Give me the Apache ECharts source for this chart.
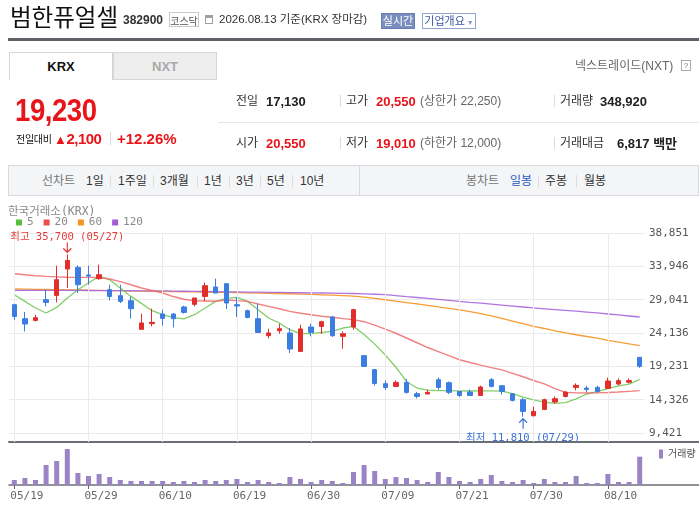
<!DOCTYPE html>
<html lang="ko">
<head>
<meta charset="utf-8">
<script src="https://cdn.jsdelivr.net/npm/echarts@6/dist/echarts.min.js"></script>
<style>
  html,body{margin:0;padding:0;background:#fff;}
  body{width:699px;height:507px;position:relative;overflow:hidden;font-family:"Liberation Sans","Noto Sans CJK KR",sans-serif;}
  #chart{position:absolute;left:0;top:0;width:699px;height:507px;z-index:0;}
  .a{position:absolute;white-space:nowrap;line-height:1;z-index:2;}
  .sep{position:absolute;width:1px;background:#dcdcdc;z-index:2;}
  .lbl{font-size:12px;color:#333;}
  .val{font-size:13px;font-weight:bold;color:#222;}
  .red{color:#e8141a;}
  .sub{font-size:12px;color:#666;}
  .nav{font-size:12px;color:#333;}
</style>
</head>
<body>
<!-- header -->
<div class="a" style="left:10px;top:5px;font-size:23.5px;color:#111;font-family:'Noto Sans CJK KR';">범한퓨얼셀</div>
<div class="a" style="left:123px;top:14px;font-size:12px;font-weight:bold;color:#333;">382900</div>
<div class="a" style="left:169px;top:12px;width:30px;height:15px;border:1px solid #c9c9c9;font-size:10px;color:#555;text-align:center;line-height:15px;box-sizing:border-box;font-family:'Noto Sans CJK KR';">코스닥</div>
<div class="a" style="left:205px;top:15px;width:8px;height:9px;border:1px solid #a0a0a0;border-top:3px solid #a0a0a0;box-sizing:border-box;"></div>
<div class="a" style="left:219px;top:14px;font-size:11.5px;color:#333;">2026.08.13 기준(KRX 장마감)</div>
<div class="a" style="left:381px;top:13px;width:34px;height:16px;background:#7b8ec0;border:1px solid #6a7db0;box-sizing:border-box;color:#fff;font-size:11px;text-align:center;line-height:14px;">실시간</div>
<div class="a" style="left:422px;top:13px;width:54px;height:16px;border:1px solid #91a4d2;box-sizing:border-box;color:#3d57a3;font-size:11px;text-align:center;line-height:14px;">기업개요<span style="font-size:7px;color:#8a9ac8;"> ▼</span></div>
<div class="a" style="left:8px;top:38px;width:691px;height:3px;background:#5e6268;"></div>

<div class="a" style="left:9px;top:52px;width:104px;height:28px;border:1px solid #d6d6d6;border-bottom:none;box-sizing:border-box;background:#fff;font-size:13px;font-weight:bold;color:#111;text-align:center;line-height:27px;">KRX</div>
<div class="a" style="left:113px;top:52px;width:104px;height:28px;border:1px solid #d6d6d6;box-sizing:border-box;background:#eeeeee;font-size:13px;font-weight:bold;color:#aaa;text-align:center;line-height:27px;">NXT</div>
<div class="a" style="left:575px;top:60px;font-size:12px;color:#666;">넥스트레이드(NXT)</div>
<div class="a" style="left:681px;top:60px;width:10px;height:11px;border:1px solid #aaa;box-sizing:border-box;font-size:8px;color:#777;text-align:center;line-height:9px;">?</div>

<div class="a red" style="left:15px;top:94px;font-size:32px;font-weight:bold;transform:scaleX(0.86);transform-origin:0 0;letter-spacing:-0.5px;">19,230</div>
<div class="a" style="left:16px;top:134px;font-size:10px;color:#111;font-family:'Noto Sans CJK KR';letter-spacing:-0.3px;">전일대비</div>
<div class="a red" style="left:54px;top:131px;font-size:15px;font-weight:bold;letter-spacing:-0.5px;"><span style="font-size:13px;">▲</span>2,100</div>
<div class="sep" style="left:110px;top:132px;height:13px;"></div>
<div class="a red" style="left:117px;top:131px;font-size:15px;font-weight:bold;">+12.26%</div>

<div class="a lbl" style="left:236px;top:95px;">전일</div>
<div class="a val" style="left:266px;top:95px;">17,130</div>
<div class="sep" style="left:340px;top:95px;height:12px;"></div>
<div class="a lbl" style="left:346px;top:95px;">고가</div>
<div class="a val red" style="left:376px;top:95px;">20,550</div>
<div class="a sub" style="left:420px;top:95px;">(상한가 22,250)</div>
<div class="sep" style="left:554px;top:95px;height:12px;"></div>
<div class="a lbl" style="left:560px;top:95px;">거래량</div>
<div class="a val" style="left:600px;top:95px;">348,920</div>
<div class="a" style="left:218px;top:122px;width:481px;height:1px;background:#e6e6e6;"></div>
<div class="a lbl" style="left:236px;top:137px;">시가</div>
<div class="a val red" style="left:266px;top:137px;">20,550</div>
<div class="sep" style="left:340px;top:137px;height:12px;"></div>
<div class="a lbl" style="left:346px;top:137px;">저가</div>
<div class="a val red" style="left:376px;top:137px;">19,010</div>
<div class="a sub" style="left:420px;top:137px;">(하한가 12,000)</div>
<div class="sep" style="left:554px;top:137px;height:12px;"></div>
<div class="a lbl" style="left:560px;top:137px;">거래대금</div>
<div class="a val" style="left:617px;top:137px;">6,817 백만</div>

<div class="a" style="left:8px;top:165px;width:691px;height:31px;background:#f4f5f7;border:1px solid #d7dae0;box-sizing:border-box;"></div>
<div class="a" style="left:359px;top:165px;width:1px;height:31px;background:#d7dae0;"></div>
<div class="a nav" style="left:42px;top:175px;color:#777;">선차트</div>
<div class="a nav" style="left:86px;top:175px;">1일</div>
<div class="sep" style="left:110px;top:175px;height:12px;"></div>
<div class="a nav" style="left:118px;top:175px;">1주일</div>
<div class="sep" style="left:153px;top:175px;height:12px;"></div>
<div class="a nav" style="left:160px;top:175px;">3개월</div>
<div class="sep" style="left:197px;top:175px;height:12px;"></div>
<div class="a nav" style="left:204px;top:175px;">1년</div>
<div class="sep" style="left:229px;top:175px;height:12px;"></div>
<div class="a nav" style="left:236px;top:175px;">3년</div>
<div class="sep" style="left:260px;top:175px;height:12px;"></div>
<div class="a nav" style="left:267px;top:175px;">5년</div>
<div class="sep" style="left:292px;top:175px;height:12px;"></div>
<div class="a nav" style="left:300px;top:175px;">10년</div>
<div class="a nav" style="left:466px;top:175px;color:#777;">봉차트</div>
<div class="a nav" style="left:510px;top:175px;color:#2a5bbf;">일봉</div>
<div class="sep" style="left:538px;top:175px;height:12px;"></div>
<div class="a nav" style="left:545px;top:175px;">주봉</div>
<div class="sep" style="left:576px;top:175px;height:12px;"></div>
<div class="a nav" style="left:584px;top:175px;">월봉</div>

<div id="chart"></div>
<script>
// ---------- data ----------
const dates = ['05/19','05/20','05/21','05/22','05/26','05/27','05/28','05/29',
  '06/01','06/02','06/04','06/05','06/08','06/09','06/10',
  '06/11','06/12','06/15','06/16','06/17','06/18','06/19',
  '06/22','06/23','06/24','06/25','06/26','06/29','06/30',
  '07/01','07/02','07/03','07/06','07/07','07/08','07/09',
  '07/10','07/13','07/14','07/15','07/16','07/20','07/21',
  '07/22','07/23','07/24','07/27','07/28','07/29','07/30',
  '07/31','08/03','08/04','08/05','08/06','08/07','08/10',
  '08/11','08/12','08/13'];
const openP  = [28300,26240,25990,29040,29670,33550,33790,32670,32130,30510,29630,28890,24670,25510,26930,
  26930,27960,28350,29520,30910,31390,28300,27420,26240,23740,24470,24140,21430,25020,25110,26490,23640,25020,
  20800,18740,16680,16280,16870,15200,15160,17260,16820,15540,15450,14950,17260,16380,15200,14320,11950,12890,
  13980,14810,16130,16040,16130,15980,16630,16900,20550];
const closeP = [26580,25460,26390,28640,31980,34820,31240,32520,32710,29520,28790,27710,25610,25700,26290,
  26240,27170,29290,31100,30020,28550,28110,26430,24220,24140,24770,21780,24730,24220,25800,23740,24030,27570,
  19220,16720,16130,16870,15400,14810,15400,16130,15400,14950,14950,16190,16280,15540,14220,12600,12600,14320,
  14470,15450,16430,15840,15540,17070,17120,17130,19230];
const lowP   = [26090,24370,25840,28050,28640,30760,30020,31240,31980,28930,28550,26240,24670,25110,25250,
  24960,26980,28050,28790,30020,27670,26490,26290,24220,23340,24030,21190,21430,23640,23990,23550,21830,24620,
  19150,16380,15750,16280,15200,14510,15160,15790,15160,14720,14950,14950,16130,15060,14070,11810,11950,12890,
  13730,14660,15690,15400,15310,15980,16430,16720,19010];
const highP  = [28450,27230,26830,30510,34040,35700,34100,34040,34190,31240,31240,29520,26980,27710,27570,
  27080,28150,29290,31580,32130,31390,29430,27570,28450,24770,25500,24870,25360,25500,25950,26580,24370,27710,
  20850,18800,17160,17160,17410,15450,15790,17600,17010,15600,15790,16380,17510,16400,15250,14570,13290,14470,
  14810,15540,16720,16380,16380,17560,17460,17460,20550];
const volume = [61650,86300,61650,246600,296000,443900,148000,111000,135600,98600,61650,49300,49300,49300,49300,
  37000,49300,37000,61650,49300,61650,74000,37000,61650,37000,24700,98600,74000,37000,61650,49300,24700,160300,
  246600,172600,74000,98600,86300,61650,37000,160300,98600,49300,37000,74000,123300,49300,37000,61650,24700,
  74000,37000,37000,111000,24700,24700,135600,37000,37000,348920];
const ma5   = [29770,28790,27820,27080,27900,29290,30510,31490,32470,31980,30760,29520,28500,27420,26830,
  26390,26200,26830,27820,28790,29230,29380,28790,27570,26340,25610,24620,24030,24030,24220,24370,24870,25110,
  23900,22500,20900,19100,17000,16040,15740,15650,15650,15620,15600,15620,15620,15580,15200,14700,14300,13950,
  13780,13880,14450,15160,15520,15950,16350,16620,17300];
const ma20  = [32860,32700,32560,32470,32400,32330,32320,32320,32300,32080,31700,31240,30760,30400,30020,
  29500,29100,28890,28850,28800,29000,28900,28790,28400,28050,27700,27320,27050,26830,26600,26450,26250,26100,
  25800,25300,24700,24100,23400,22700,22000,21400,20800,20200,19800,19400,19050,18700,18200,17700,17150,16650,
  15950,15400,15330,15310,15330,15380,15450,15550,15650];
const ma60  = [30610,30590,30560,30540,30510,30480,30460,30430,30410,30380,30360,30330,30310,30280,30260,
  30230,30200,30180,30150,30130,30100,30070,30040,30010,29980,29950,29910,29870,29820,29760,29700,29630,29560,
  29420,29230,29030,28830,28620,28410,28190,27970,27760,27550,27290,26980,26650,26300,25900,25500,25110,24800,
  24450,24150,23880,23620,23380,23040,22780,22520,22270];
const ma120 = [30400,30400,30400,30400,30400,30400,30400,30390,30380,30370,30360,30350,30340,30330,30320,
  30300,30280,30260,30240,30220,30200,30180,30160,30140,30120,30100,30080,30060,30040,30020,30000,29980,29950,
  29900,29840,29770,29650,29500,29360,29220,29080,28940,28790,28650,28520,28380,28240,28100,27960,27820,27700,
  27580,27460,27340,27220,27100,26930,26790,26640,26490];
const priceTicks = [9421,14326,19231,24136,29041,33946,38851];
const labelEvery = 7;
const maNames = ['5','20','60','120'];

// ---------- chart ----------
const MONO = '"DejaVu Sans Mono","Noto Sans CJK KR",monospace';
const RED = '#e12e2b', BLUE = '#3b7de1';
const fmt = v => Number(v).toLocaleString('en-US');
const candles = dates.map((d,i) => [openP[i], closeP[i], lowP[i], highP[i]]);
let hiIdx = 0, loIdx = 0;
highP.forEach((v,i)=>{ if (v > highP[hiIdx]) hiIdx = i; });
lowP.forEach((v,i)=>{ if (v < lowP[loIdx]) loIdx = i; });
const gridDates = dates.filter((d,i) => i % labelEvery === 0);

const hidCat = (gi) => ({gridIndex: gi, type:'category', data: dates, boundaryGap: true,
  axisLine:{show:false}, axisTick:{show:false}, axisLabel:{show:false}, splitLine:{show:false}});

const chart = echarts.init(document.getElementById('chart'), null, {renderer:'canvas'});
chart.setOption({
  animation: false,
  title: {text:'한국거래소(KRX)', left: 8, top: 206, padding: 0, textStyle:{fontSize:11.5, color:'#888', fontWeight:'normal', fontFamily: MONO}},
  legend: [
    {data: maNames, left: 16, top: 217, padding: 0, icon:'rect', itemWidth:6, itemHeight:6, itemGap:10, selectedMode:false,
     textStyle:{fontSize:11, color:'#888', fontFamily: MONO}},
    {data: ['거래량'], left: 659, top: 449, padding: 0, icon:'rect', itemWidth:4, itemHeight:9, selectedMode:false,
     textStyle:{fontSize:10, color:'#555', fontFamily: MONO}}
  ],
  grid: [
    {left:9, right:54, top:233, bottom:74},
    {left:9, right:54, top:233, bottom:65},
    {left:9, right:54, top:449, bottom:22},
    {left:9, right:0, top:442, bottom:22}
  ],
  xAxis: [
    hidCat(0),
    hidCat(1),
    {gridIndex:2, type:'category', data: dates, boundaryGap:true,
     axisLine:{show:false},
     axisTick:{show:true, alignWithLabel:true, interval: labelEvery-1, length:4, lineStyle:{color:'#666'}},
     axisLabel:{interval: labelEvery-1, margin:6, fontSize:11, color:'#666', fontFamily: MONO, align:'left', padding:[0,0,0,-4]},
     splitLine:{show:false}},
    {gridIndex:3, type:'value', position:'bottom', axisLine:{show:true, onZero:false, lineStyle:{color:'#6b6f75', width:1.5}},
     axisTick:{show:false}, axisLabel:{show:false}, splitLine:{show:false}},
    {gridIndex:3, type:'value', position:'top', axisLine:{show:true, onZero:false, lineStyle:{color:'#6b6f75', width:2}},
     axisTick:{show:false}, axisLabel:{show:false}, splitLine:{show:false}}
  ],
  yAxis: [
    {gridIndex:0, type:'value', position:'right', min: priceTicks[0], max: priceTicks[priceTicks.length-1],
     interval: priceTicks[1]-priceTicks[0],
     axisLine:{show:false}, axisTick:{show:false},
     axisLabel:{margin:4, fontSize:11, color:'#555', fontFamily: MONO, formatter: fmt},
     splitLine:{show:true, lineStyle:{color:'#ebebeb', width:1}}},
    {gridIndex:1, type:'value', show:false},
    {gridIndex:2, type:'value', show:false, min:0, max:'dataMax'},
    {gridIndex:3, type:'value', show:false}
  ],
  series: [
    {type:'line', xAxisIndex:1, yAxisIndex:1, data: dates.map(()=>'-'), silent:true, z:0,
     markLine:{silent:true, symbol:['none','none'], label:{show:false},
       lineStyle:{color:'#ebebeb', width:1, type:'solid'},
       data: gridDates.map(d => ({xAxis: d}))}},
    {type:'line', xAxisIndex:3, yAxisIndex:3, data: [], silent:true},
    {name:'캔들', type:'candlestick', xAxisIndex:0, yAxisIndex:0, data: candles, barWidth:5, z:5,
     itemStyle:{color:RED, color0:BLUE, borderColor:RED, borderColor0:BLUE, borderWidth:1},
     markPoint:{silent:true, data:[
       {coord:[dates[hiIdx], highP[hiIdx]], symbol:'path://M5,0 L5,10 M1,6 L5,10 L9,6', symbolSize:[8,10], symbolOffset:[0,-7],
        itemStyle:{color:'none', borderColor:'#e53a3a', borderWidth:1.3},
        label:{show:true, position:'top', distance:-3, color:'#e53a3a', fontSize:10.5, fontFamily: MONO,
          formatter: '최고 ' + fmt(highP[hiIdx]) + ' (' + dates[hiIdx] + ')'}},
       {coord:[dates[loIdx], lowP[loIdx]], symbol:'path://M5,10 L5,0 M1,4 L5,0 L9,4', symbolSize:[8,10], symbolOffset:[0,7],
        itemStyle:{color:'none', borderColor:'#3a72d6', borderWidth:1.3},
        label:{show:true, position:'bottom', distance:1, color:'#3a72d6', fontSize:10.5, fontFamily: MONO,
          formatter: '최저 ' + fmt(lowP[loIdx]) + ' (' + dates[loIdx] + ')'}}
     ]}},
    {name: maNames[0], type:'line', xAxisIndex:0, yAxisIndex:0, data: ma5, showSymbol:false, color:'#5cbf3c', z:4,
     lineStyle:{width:1.3, color:'#6cc64f', opacity:0.85}},
    {name: maNames[1], type:'line', xAxisIndex:0, yAxisIndex:0, data: ma20, showSymbol:false, color:'#ef4b4b', z:4,
     lineStyle:{width:1.4, color:'#f06a6a', opacity:0.85}},
    {name: maNames[2], type:'line', xAxisIndex:0, yAxisIndex:0, data: ma60, showSymbol:false, color:'#f7931e', z:3,
     lineStyle:{width:1.3, color:'#f7921f', opacity:0.9}},
    {name: maNames[3], type:'line', xAxisIndex:0, yAxisIndex:0, data: ma120, showSymbol:false, color:'#a35ed6', z:3,
     lineStyle:{width:1.3, color:'#a865db', opacity:0.9}},
    {name:'거래량', type:'bar', xAxisIndex:2, yAxisIndex:2, data: volume, barWidth:5, color:'#9a84c5',
     itemStyle:{color:'#9a84c5'}}
  ]
});
</script>
</body>
</html>
